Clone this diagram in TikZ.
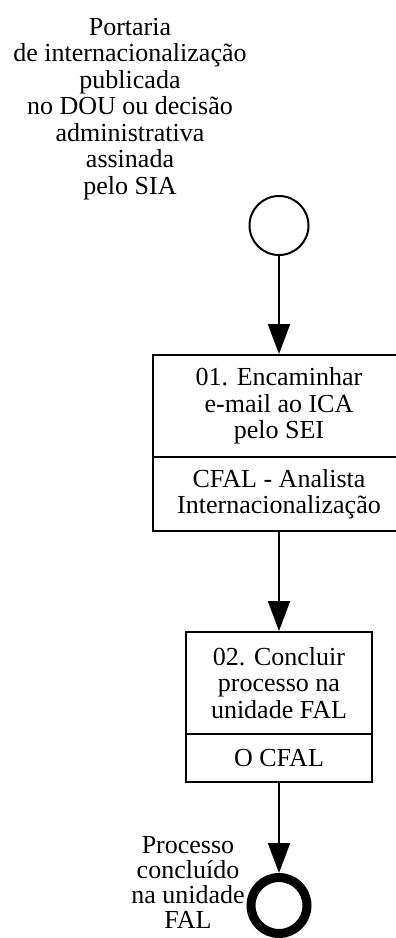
\documentclass[tikz,border=0pt]{standalone}
\usepackage{fontspec}
\setmainfont{Liberation Serif}
\usetikzlibrary{arrows.meta}
\begin{document}
\begin{tikzpicture}[x=1pt,y=-1pt,
  every node/.style={font=\fontsize{26}{26.5}\selectfont},
  lbl/.style={align=center,inner sep=0pt},
  part/.style={draw,line width=2pt,inner sep=0pt,align=center,minimum width=#1},
  flow/.style={line width=2pt,-{Triangle[length=30pt,width=22pt]}},
  startev/.style={draw,circle,line width=2pt,minimum size=59pt,inner sep=0pt},
  endev/.style={draw,circle,line width=9pt,minimum size=56pt,inner sep=0pt}]
\clip (0,0) rectangle (396,938);
\useasboundingbox (0,0) rectangle (396,938);
\fill[white] (0,0) rectangle (396,938);
% start label
\node[lbl] (slabel) at (130,109) {Portaria\\de internacionalização\\publicada\\no DOU ou decisão\\administrativa\\assinada\\pelo SIA};
\node[startev] (s) at (279,225.5) {};
% task 1
\node[part=252pt,minimum height=102pt] (t1) at (279,406) {01. Encaminhar\\e-mail ao ICA\\pelo SEI};
\node[part=252pt,minimum height=74pt] (r1) at (279,494) {CFAL - Analista\\Internacionalização};
% task 2
\node[part=186pt,minimum height=102pt] (t2) at (279,683) {02. Concluir\\processo na\\unidade FAL};
\node[part=186pt,minimum height=48pt] (r2) at (279,758) {O CFAL};
% end
\node[endev] (e) at (279,905.5) {};
\node[lbl,font=\fontsize{26}{25}\selectfont] (elabel) at (188,882) {Processo\\concluído\\na unidade\\FAL};
% flows
\draw[flow] (s.south) -- (t1.north);
\draw[flow] (r1.south) -- (t2.north);
\draw[flow] (r2.south) -- (e.north);
\end{tikzpicture}
\end{document}
